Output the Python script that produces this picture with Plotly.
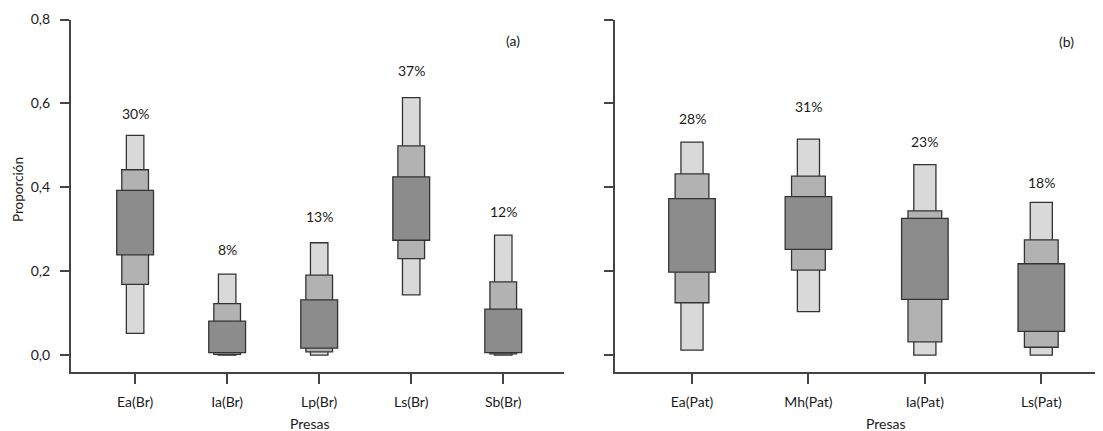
import plotly.graph_objects as go

# ---------------- data ----------------
cats_a = ["Ea(Br)", "Ia(Br)", "Lp(Br)", "Ls(Br)", "Sb(Br)"]
lo95_a = [0.052, 0.000, 0.000, 0.144, 0.000]
hi95_a = [0.524, 0.193, 0.268, 0.614, 0.286]
lo75_a = [0.169, 0.002, 0.008, 0.230, 0.003]
hi75_a = [0.442, 0.123, 0.191, 0.499, 0.175]
lo50_a = [0.239, 0.006, 0.017, 0.274, 0.006]
hi50_a = [0.393, 0.081, 0.132, 0.425, 0.110]
pct_a = ["30%", "8%", "13%", "37%", "12%"]
pct_y_a = [0.577, 0.251, 0.330, 0.678, 0.342]

cats_b = ["Ea(Pat)", "Mh(Pat)", "Ia(Pat)", "Ls(Pat)"]
lo95_b = [0.012, 0.104, 0.000, 0.000]
hi95_b = [0.508, 0.515, 0.454, 0.364]
lo75_b = [0.125, 0.203, 0.032, 0.019]
hi75_b = [0.432, 0.427, 0.344, 0.275]
lo50_b = [0.198, 0.252, 0.133, 0.057]
hi50_b = [0.373, 0.378, 0.326, 0.218]
pct_b = ["28%", "31%", "23%", "18%"]
pct_y_b = [0.565, 0.592, 0.509, 0.411]

y_ticks = [0.0, 0.2, 0.4, 0.6, 0.8]

# ---------------- style ----------------
OFF = 8                      # page body margin
W, H = 1103 - OFF, 431 - OFF
FONT = "Lato"
FS = 14
TXT = "#1a1a1a"
AX = "#444444"
C95, C75, C50 = "#d9d9d9", "#b2b2b2", "#8c8c8c"
EDGE = "#333333"


def px(x):
    return (x - OFF) / W


def py(y):
    return 1 - (y - OFF) / H


fig = go.Figure()


def add_panel(cats, lo95, hi95, lo75, hi75, lo50, hi50, xa, ya):
    xs = list(range(1, len(cats) + 1))
    for lo, hi, col, w in [(lo95, hi95, C95, 0.19), (lo75, hi75, C75, 0.29), (lo50, hi50, C50, 0.40)]:
        fig.add_trace(go.Bar(
            x=xs, y=[h - l for l, h in zip(lo, hi)], base=lo, width=w,
            marker=dict(color=col, line=dict(color=EDGE, width=1.3)),
            xaxis=xa, yaxis=ya, showlegend=False, hoverinfo="skip"))


add_panel(cats_a, lo95_a, hi95_a, lo75_a, hi75_a, lo50_a, hi50_a, "x", "y")
add_panel(cats_b, lo95_b, hi95_b, lo75_b, hi75_b, lo50_b, hi50_b, "x2", "y2")

y_dom = [py(372), py(19.5)]
y_rng = [-0.040, 0.8]

common_x = dict(showline=True, linecolor=AX, linewidth=1.5, ticks="outside",
                ticklen=10, tickwidth=1.5, tickcolor=AX, showgrid=False, zeroline=False,
                automargin=False, fixedrange=True,
                tickfont=dict(family=FONT, size=FS, color=TXT), ticklabelstandoff=6)
common_y = dict(showline=True, linecolor=AX, linewidth=1.5, ticks="outside",
                ticklen=9, tickwidth=1.5, tickcolor=AX, showgrid=False, zeroline=False,
                automargin=False, fixedrange=True,
                range=y_rng, domain=y_dom, tickvals=y_ticks, tickformat=".1f",
                tickfont=dict(family=FONT, size=FS, color=TXT))

fig.update_layout(
    width=W, height=H, autosize=False,
    margin=dict(l=0, r=0, t=0, b=0, pad=0),
    paper_bgcolor="white", plot_bgcolor="white",
    barmode="overlay", separators=",.",
    font=dict(family=FONT, size=FS, color=TXT),
    xaxis=dict(common_x, domain=[px(70.7), px(564)], range=[0.30, 5.66],
               tickvals=list(range(1, len(cats_a) + 1)), ticktext=cats_a),
    yaxis=dict(common_y, anchor="x", ticklabelstandoff=7),
    xaxis2=dict(common_x, domain=[px(614.7), 1.0], range=[0.336, 4.53], anchor="y2",
                tickvals=list(range(1, len(cats_b) + 1)), ticktext=cats_b),
    yaxis2=dict(common_y, anchor="x2", showticklabels=False),
)


def note(x, y, text, xref="paper", yref="paper", size=FS, **kw):
    return dict(x=x, y=y, xref=xref, yref=yref, text=text, showarrow=False,
                xanchor="center", yanchor="middle", borderpad=0,
                font=dict(family=FONT, size=size, color=TXT), **kw)


ann = []
for i, (t, yv) in enumerate(zip(pct_a, pct_y_a)):
    ann.append(note(i + 1, yv, t, "x", "y"))
for i, (t, yv) in enumerate(zip(pct_b, pct_y_b)):
    ann.append(note(i + 1, yv, t, "x2", "y2"))
ann += [
    note(px(513), py(40), "(a)"),
    note(px(1066), py(41.5), "(b)"),
    note(px(18), py(190), "Proporción", size=13.5, textangle=-90),
    note(px(310), py(423), "Presas"),
    note(px(886), py(423), "Presas"),
]
fig.update_layout(annotations=ann)

fig.write_html("out.html", config={"displayModeBar": False})
